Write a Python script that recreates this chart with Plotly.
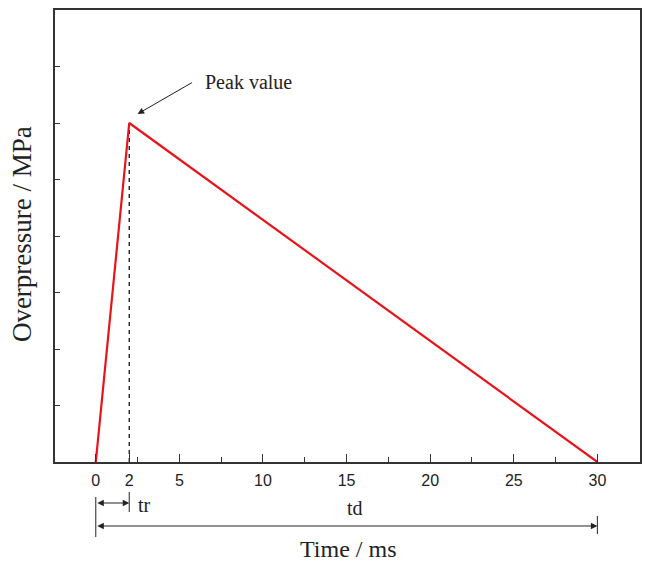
import plotly.graph_objects as go

# Data
time_ms = [0, 2, 30]
overpressure = [0, 6, 0]
dash_x = [2, 2]
dash_y = [0, 6]
major_ticks = [0, 2, 5, 10, 15, 20, 25, 30]
major_labels = ["0", "2", "5", "10", "15", "20", "25", "30"]
minor_ticks = [2.5, 7.5, 12.5, 17.5, 22.5, 27.5]
y_ticks = [0, 1, 2, 3, 4, 5, 6, 7, 8]
tr_span = [0, 2]
td_span = [0, 30]

W, H = 646, 562
ML, MR, MT, MB = 55, 4, 10, 100
plot_h = H - MT - MB
X0, X1 = -2.44, 32.55
xscale = (W - ML - MR) / (X1 - X0)

def py(pix):
    # convert pixel y (from top) to paper coordinate
    return (H - MB - pix) / plot_h

fig = go.Figure()
fig.add_trace(go.Scatter(x=dash_x, y=dash_y, mode="lines",
                         line=dict(color="black", width=1.2, dash="4px,4px"),
                         showlegend=False, hoverinfo="skip"))
fig.add_trace(go.Scatter(x=time_ms, y=overpressure, mode="lines",
                         line=dict(color="#e8141c", width=2.2),
                         showlegend=False))

serif = "Liberation Serif, Times New Roman, serif"
sans = "Liberation Sans, Arial, sans-serif"

fig.update_layout(
    width=W, height=H,
    margin=dict(l=ML, r=MR, t=MT, b=MB),
    plot_bgcolor="white", paper_bgcolor="white",
    showlegend=False,
    xaxis=dict(range=[X0, X1], tickvals=major_ticks, ticktext=major_labels,
               ticks="inside", ticklen=8, tickwidth=1.2, tickcolor="#333",
               showline=True, linecolor="#333", linewidth=2, mirror=True,
               showgrid=False, zeroline=False, ticklabelstandoff=3,
               tickfont=dict(family=sans, size=16, color="#222"),
               minor=dict(tickvals=minor_ticks, ticks="inside", ticklen=5,
                          tickwidth=1.2, tickcolor="#333", showgrid=False)),
    yaxis=dict(range=[0, 8], tickvals=y_ticks, showticklabels=False,
               ticks="inside", ticklen=5, tickwidth=1.2, tickcolor="#333",
               showline=True, linecolor="#333", linewidth=2, mirror=True,
               showgrid=False, zeroline=False),
)

# axis titles
fig.add_annotation(text="Time / ms", xref="paper", yref="paper",
                   x=(349 - ML) / (W - ML - MR), y=py(549), showarrow=False,
                   font=dict(family=serif, size=24, color="#222"),
                   xanchor="center", yanchor="middle")
fig.add_annotation(text="Overpressure / MPa", xref="paper", yref="paper",
                   x=(22 - ML) / (W - ML - MR), y=py(234), showarrow=False,
                   textangle=-90, font=dict(family=serif, size=27, color="#222"),
                   xanchor="center", yanchor="middle")

# Peak value annotation
fig.add_annotation(text="", x=2.5, y=6.16, xref="x", yref="y",
                   ax=5.84, ay=6.73, axref="x", ayref="y",
                   showarrow=True, arrowhead=2, arrowsize=1.3, arrowwidth=1,
                   arrowcolor="#222")
fig.add_annotation(text="Peak value", xref="x", yref="paper",
                   x=(249 - 96) / xscale, y=py(82), showarrow=False,
                   font=dict(family=serif, size=20, color="#222"),
                   xanchor="center", yanchor="middle")

# bottom spans
def vbar(xv, y0pix, y1pix):
    fig.add_shape(type="line", xref="x", yref="paper", x0=xv, x1=xv,
                  y0=py(y0pix), y1=py(y1pix), line=dict(color="#222", width=1))

vbar(tr_span[0], 497, 537)
vbar(tr_span[1], 492, 512)
vbar(td_span[1], 516, 534)

fig.add_annotation(text="", xref="x", yref="paper", axref="x", ayref="pixel",
                   x=tr_span[1], y=py(503), ax=tr_span[0], ay=0,
                   showarrow=True, arrowhead=2, arrowside="end+start",
                   arrowsize=1.3, arrowwidth=1, arrowcolor="#222")
fig.add_annotation(text="", xref="x", yref="paper", axref="x", ayref="pixel",
                   x=td_span[1], y=py(526), ax=td_span[0], ay=0,
                   showarrow=True, arrowhead=2, arrowside="end+start",
                   arrowsize=1.3, arrowwidth=1, arrowcolor="#222")
fig.add_annotation(text="tr", xref="x", yref="paper",
                   x=tr_span[1] + 0.9, y=py(505), showarrow=False,
                   font=dict(family=serif, size=20, color="#222"),
                   xanchor="center", yanchor="middle")
fig.add_annotation(text="td", xref="x", yref="paper",
                   x=(td_span[0] + td_span[1]) / 2 + 0.5, y=py(508), showarrow=False,
                   font=dict(family=serif, size=20, color="#222"),
                   xanchor="center", yanchor="middle")

fig.write_html("out.html")
